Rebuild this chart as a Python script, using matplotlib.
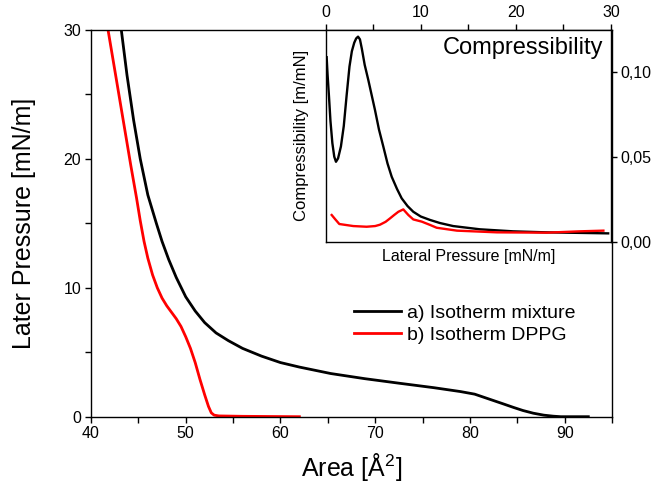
import numpy as np
import matplotlib
matplotlib.use("Agg")
import matplotlib.pyplot as plt
from matplotlib.ticker import MultipleLocator, FuncFormatter

plt.rcParams['font.family'] = ['Liberation Sans', 'DejaVu Sans']
plt.rcParams['mathtext.fontset'] = 'custom'
plt.rcParams['mathtext.rm'] = 'Liberation Sans'

# ---- isotherms: area [A^2] vs lateral pressure [mN/m] ----
mix_area = [43.2, 43.8, 44.5, 45.2, 46.0, 46.9, 47.5, 48.2, 49.0, 50.0, 51.0, 52.0,
            53.2, 54.5, 56.0, 58.0, 60.0, 62.0, 65.3, 68.9, 72.5, 76.2, 79.0, 80.5,
            81.5, 82.5, 83.5, 84.6, 85.6, 86.7, 87.8, 88.8, 89.6, 92.5]
mix_pres = [30.0, 26.5, 23.0, 20.0, 17.2, 15.0, 13.6, 12.2, 10.8, 9.3, 8.2, 7.3,
            6.5, 5.9, 5.3, 4.7, 4.2, 3.85, 3.35, 2.95, 2.6, 2.25, 1.95, 1.75,
            1.5, 1.25, 1.0, 0.72, 0.48, 0.27, 0.12, 0.04, 0.0, 0.0]

dppg_area = [41.8, 42.6, 43.4, 44.2, 44.8, 45.2, 45.6, 46.0, 46.5, 47.0, 47.5, 48.0,
             48.5, 49.0, 49.5, 50.0, 50.5, 51.0, 51.5, 52.0, 52.4, 52.7, 53.0, 53.5,
             56.0, 62.0]
dppg_pres = [30.0, 26.5, 23.0, 19.5, 17.0, 15.2, 13.6, 12.3, 11.0, 10.0, 9.2, 8.6,
             8.1, 7.6, 7.0, 6.2, 5.3, 4.2, 2.9, 1.7, 0.8, 0.3, 0.12, 0.06,
             0.03, 0.0]

# ---- compressibility (inset) ----
mix_lp = [0.1, 0.2, 0.35, 0.5, 0.7, 0.9, 1.08, 1.3, 1.6, 1.9, 2.2, 2.5, 2.75, 3.0,
          3.2, 3.4, 3.6, 3.8, 4.1, 4.48, 5.18, 5.6, 6.06, 6.5, 6.94, 7.5, 7.99,
          8.6, 9.21, 10.0, 10.97, 12.0, 13.4, 16.2, 19.7, 23.2, 29.7]
mix_comp = [0.1085, 0.098, 0.085, 0.071, 0.058, 0.050, 0.047, 0.049, 0.056, 0.068,
            0.086, 0.103, 0.112, 0.117, 0.1195, 0.1206, 0.119, 0.1135, 0.104, 0.0951,
            0.0775, 0.066, 0.0559, 0.046, 0.0382, 0.031, 0.0255, 0.021, 0.0176,
            0.0148, 0.0128, 0.011, 0.0092, 0.0073, 0.0061, 0.0055, 0.0049]

dppg_lp = [0.63, 1.0, 1.43, 2.9, 4.3, 5.2, 5.71, 6.3, 6.76, 7.2, 7.64, 8.16, 8.69,
           9.21, 10.1, 11.0, 11.67, 13.8, 18.0, 23.2, 26.7, 29.2]
dppg_comp = [0.0157, 0.0132, 0.0104, 0.0092, 0.0088, 0.0092, 0.0100, 0.0117, 0.0137,
             0.0157, 0.0176, 0.0190, 0.0157, 0.0131, 0.0118, 0.0098, 0.0082, 0.0065,
             0.0055, 0.0053, 0.0061, 0.0065]

fig = plt.figure(figsize=(6.65, 4.87), dpi=100)

# main axes
ax = fig.add_axes([91/665, 1 - 416.7/487, 521/665, 386.7/487])
ax.plot(mix_area, mix_pres, color='black', lw=2.0, label='a) Isotherm mixture')
ax.plot(dppg_area, dppg_pres, color='red', lw=2.0, label='b) Isotherm DPPG')
ax.set_xlim(40, 95)
ax.set_ylim(0, 30)
ax.xaxis.set_major_locator(MultipleLocator(10))
ax.xaxis.set_minor_locator(MultipleLocator(5))
ax.yaxis.set_major_locator(MultipleLocator(10))
ax.yaxis.set_minor_locator(MultipleLocator(5))
ax.tick_params(which='both', direction='out', length=4, width=1, labelsize=11.5, pad=3)
for s in ax.spines.values():
    s.set_linewidth(1.0)
ax.set_xlabel('Area [Å$^{2}$]', fontsize=18)
ax.set_ylabel('Later Pressure [mN/m]', fontsize=18)
ax.xaxis.set_label_coords(0.5, -0.088)
ax.yaxis.set_label_coords(-0.105, 0.5)

ax.legend(loc='upper left', bbox_to_anchor=(0.505, 0.29), frameon=False, fontsize=14,
          handlelength=2.4, handletextpad=0.3, labelspacing=0.2, borderpad=0,
          borderaxespad=0)

# inset
ins = fig.add_axes([325.7/665, 1 - 241.7/487, 285.3/665, 211.7/487])
ins.plot(mix_lp, mix_comp, color='black', lw=1.7)
ins.plot(dppg_lp, dppg_comp, color='red', lw=1.7)
ins.set_xlim(0, 30)
ins.set_ylim(0, 0.1245)
ins.xaxis.tick_top()
ins.yaxis.tick_right()
ins.xaxis.set_major_locator(MultipleLocator(10))
ins.xaxis.set_minor_locator(MultipleLocator(5))
ins.yaxis.set_major_locator(MultipleLocator(0.05))
ins.yaxis.set_major_formatter(FuncFormatter(lambda v, p: f"{v:.2f}".replace('.', ',')))
ins.tick_params(which='both', direction='out', length=4, width=1, labelsize=11.5, pad=3)
for s in ins.spines.values():
    s.set_linewidth(1.0)
ins.xaxis.set_label_position('bottom')
ins.set_xlabel('Lateral Pressure [mN/m]', fontsize=11.5)
ins.xaxis.set_label_coords(0.5, -0.035)
ins.yaxis.set_label_position('left')
ins.set_ylabel('Compressibility [m/mN]', fontsize=12)
ins.yaxis.set_label_coords(-0.06, 0.5)
ins.text(0.972, 0.915, 'Compressibility', transform=ins.transAxes, ha='right',
         va='center', fontsize=17)

fig.savefig('out.png', dpi=100)
